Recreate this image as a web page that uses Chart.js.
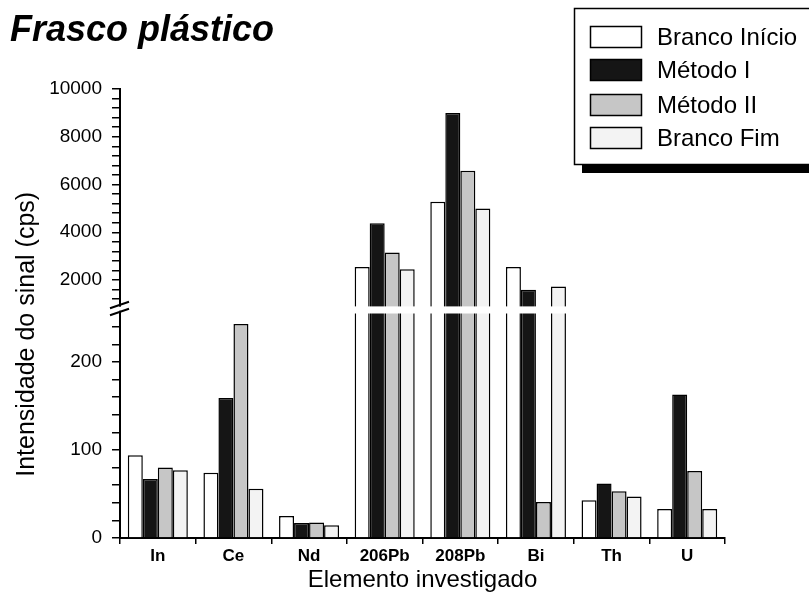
<!DOCTYPE html>
<html>
<head>
<meta charset="utf-8">
<script src="https://cdn.jsdelivr.net/npm/chart.js@4.4.0/dist/chart.umd.min.js"></script>
<style>
  body { margin: 0; background: #fff; }
  #wrap { width: 809px; height: 596px; position: relative; }
</style>
</head>
<body>
<div id="wrap"><canvas id="graph"></canvas></div>
<script>
// dados (cps)
const elementos    = ['In', 'Ce', 'Nd', '206Pb', '208Pb', 'Bi', 'Th', 'U'];
const brancoInicio = [94, 74, 25, 2540, 5280, 2540, 43, 33];
const metodoI      = [67, 159, 17, 4380, 9000, 1590, 62, 163];
const metodoII     = [80, 243, 17.5, 3150, 6580, 41, 53, 76];
const brancoFim    = [77, 56, 14.5, 2450, 5000, 1730, 47, 33];

// marcas do eixo y (parte baixa e parte alta, com quebra no meio)
const ticksBaixo  = [0, 20, 40, 60, 80, 100, 120, 140, 160, 180, 200, 220, 240];
const ticksAlto   = [1200, 1600, 2000, 2400, 2800, 3200, 3600, 4000, 4400, 4800, 5200,
                     5600, 6000, 6400, 6800, 7200, 7600, 8000, 8400, 8800, 9200, 9600, 10000];
const ticksRotulo = [0, 100, 200, 2000, 4000, 6000, 8000, 10000];

const FONTE = '"Liberation Sans", Arial, Helvetica, sans-serif';

// quebra do eixo: 0-255 na metade de baixo, 1000-10000 na parte de cima
const Q_BAIXO = 255, Q_ALTO = 1000, F_BAIXO = 0.5, F_ALTO = 0.5214, Y_MAX = 10000;

function paraFracao(v) {
    if (v <= Q_BAIXO) return v / Q_BAIXO * F_BAIXO;
    if (v <= Q_ALTO)  return F_BAIXO + (v - Q_BAIXO) / (Q_ALTO - Q_BAIXO) * (F_ALTO - F_BAIXO);
    return F_ALTO + (v - Q_ALTO) / (Y_MAX - Q_ALTO) * (1 - F_ALTO);
}
function deFracao(f) {
    if (f <= F_BAIXO) return f / F_BAIXO * Q_BAIXO;
    if (f <= F_ALTO)  return Q_BAIXO + (f - F_BAIXO) / (F_ALTO - F_BAIXO) * (Q_ALTO - Q_BAIXO);
    return Q_ALTO + (f - F_ALTO) / (1 - F_ALTO) * (Y_MAX - Q_ALTO);
}

class EscalaQuebrada extends Chart.LinearScale {
    buildTicks() {
        return ticksBaixo.concat(ticksAlto).map(v => ({ value: v }));
    }
    getPixelForValue(value) {
        if (value === null || value === undefined) return NaN;
        return this.getPixelForDecimal(paraFracao(value));
    }
    getValueForPixel(pixel) {
        return deFracao(this.getDecimalForPixel(pixel));
    }
}
EscalaQuebrada.id = 'quebrada';
EscalaQuebrada.defaults = Chart.LinearScale.defaults;
Chart.register(EscalaQuebrada);

Chart.defaults.font.family = FONTE;
Chart.defaults.color = '#000';

const pluginDesenho = {
    id: 'desenho',
    afterDatasetsDraw(chart) {
        // faixa branca cortando as barras na quebra
        const ctx = chart.ctx, y = chart.scales.y, a = chart.chartArea;
        const yTopo = y.getPixelForValue(Q_ALTO) + 2.5;
        const yBase = y.getPixelForValue(Q_BAIXO);
        ctx.save();
        ctx.fillStyle = '#fff';
        ctx.fillRect(a.left + 1.5, yTopo, a.right - a.left, yBase - yTopo);
        ctx.restore();
    },
    afterDraw(chart) {
        const ctx = chart.ctx, y = chart.scales.y, a = chart.chartArea;
        const meio = (y.getPixelForValue(Q_ALTO) + y.getPixelForValue(Q_BAIXO)) / 2;
        const x0 = a.left;
        ctx.save();
        // sinal de quebra no eixo
        ctx.fillStyle = '#fff';
        ctx.fillRect(x0 - 3, meio - 2, 6, 4);
        ctx.strokeStyle = '#000';
        ctx.lineWidth = 2;
        ctx.beginPath();
        ctx.moveTo(x0 - 10, meio - 0.5); ctx.lineTo(x0 + 9, meio - 7);
        ctx.moveTo(x0 - 10, meio + 6.5); ctx.lineTo(x0 + 9, meio);
        ctx.stroke();

        // titulo
        ctx.fillStyle = '#000';
        ctx.font = 'italic bold 36px ' + FONTE;
        ctx.textBaseline = 'alphabetic';
        ctx.textAlign = 'left';
        ctx.fillText('Frasco plástico', 10, 41);

        // legenda com sombra embaixo (a caixa passa da borda direita)
        ctx.fillStyle = '#000';
        ctx.fillRect(582, 164, 230, 9);
        ctx.fillStyle = '#fff';
        ctx.fillRect(574, 8, 240, 156);
        ctx.lineWidth = 1.5;
        ctx.strokeStyle = '#000';
        ctx.strokeRect(574.5, 8.5, 240, 156);

        const linhas = [37, 70, 105, 138];
        ctx.font = '24px ' + FONTE;
        ctx.textBaseline = 'middle';
        chart.data.datasets.forEach((ds, i) => {
            const cy = linhas[i];
            ctx.fillStyle = ds.backgroundColor;
            ctx.fillRect(590, cy - 11, 52, 22);
            ctx.strokeStyle = '#000';
            ctx.lineWidth = 1.5;
            ctx.strokeRect(590.5, cy - 10.5, 51, 21);
            ctx.fillStyle = '#000';
            ctx.fillText(ds.label, 657, cy + 1);
        });
        ctx.restore();
    }
};

const ctx = document.getElementById('graph').getContext('2d');

const estiloBarra = { borderColor: '#000', borderWidth: 1.5, categoryPercentage: 0.794, barPercentage: 1.0 };

new Chart(ctx, {
    type: 'bar',
    data: {
        labels: elementos,
        datasets: [
            Object.assign({ label: 'Branco Início', data: brancoInicio, backgroundColor: '#ffffff' }, estiloBarra),
            Object.assign({ label: 'Método I',      data: metodoI,      backgroundColor: '#151515' }, estiloBarra),
            Object.assign({ label: 'Método II',     data: metodoII,     backgroundColor: '#c6c6c6' }, estiloBarra),
            Object.assign({ label: 'Branco Fim',    data: brancoFim,    backgroundColor: '#f3f3f3' }, estiloBarra)
        ]
    },
    options: {
        responsive: true,
        maintainAspectRatio: false,
        animation: false,
        layout: { padding: { left: 0, right: 84, top: 89, bottom: 0 } },
        plugins: {
            legend: { display: false },
            tooltip: { enabled: false }
        },
        scales: {
            x: {
                type: 'category',
                offset: true,
                grid: { offset: true, drawOnChartArea: false, drawTicks: true, tickLength: 6, color: '#000', lineWidth: 1.5 },
                border: { display: true, color: '#000', width: 2 },
                ticks: { font: { size: 17, weight: 'bold' }, padding: 2, color: '#000', maxRotation: 0 },
                title: { display: true, text: 'Elemento investigado', font: { size: 24 }, color: '#000', padding: { top: 0, bottom: 1 } },
                afterFit(scale) { scale.height = 58; }
            },
            y: {
                type: 'quebrada',
                min: 0,
                max: Y_MAX,
                grid: { drawOnChartArea: false, drawTicks: true, tickLength: 8, color: '#000', lineWidth: 1.5 },
                border: { display: true, color: '#000', width: 2 },
                ticks: {
                    autoSkip: false,
                    padding: 10,
                    font: { size: 19 },
                    color: '#000',
                    callback: (v) => ticksRotulo.includes(v) ? String(v) : ''
                },
                title: { display: true, text: 'Intensidade do sinal (cps)      ', font: { size: 25 }, color: '#000', padding: { top: 12, bottom: 0 } },
                afterFit(scale) { scale.width = 120; }
            }
        }
    },
    plugins: [pluginDesenho]
});
</script>
</body>
</html>
